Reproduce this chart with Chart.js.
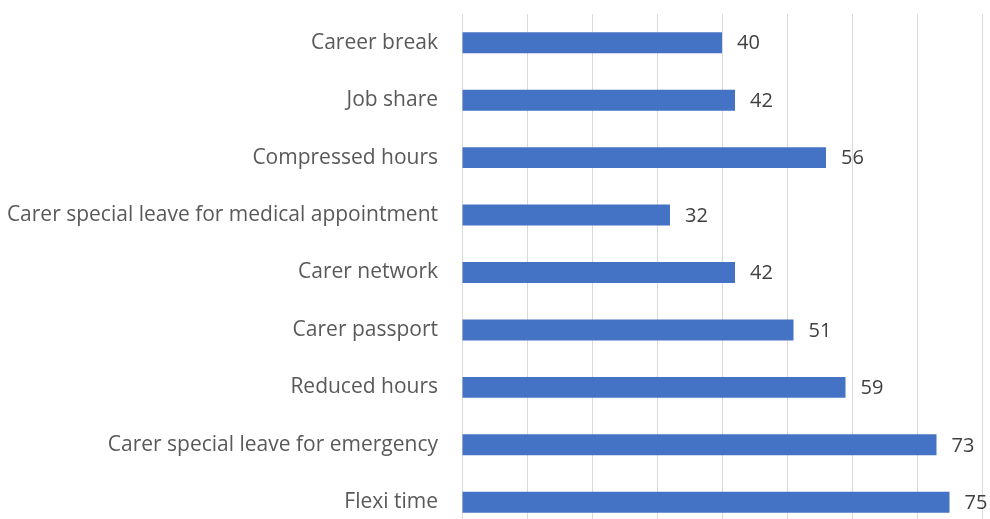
<!DOCTYPE html>
<html>
<head>
<meta charset="utf-8">
<script src="https://cdn.jsdelivr.net/npm/chart.js@4"></script>
<style>
  html, body { margin: 0; padding: 0; background: #fff; overflow: hidden; }
  #wrap { width: 990px; height: 531px; }
</style>
</head>
<body>
<div id="wrap"><canvas id="barChart" width="990" height="531"></canvas></div>
<script>
const categories = [
  "Career break",
  "Job share",
  "Compressed hours",
  "Carer special leave for medical appointment",
  "Carer network",
  "Carer passport",
  "Reduced hours",
  "Carer special leave for emergency",
  "Flexi time",
];

const values = [40, 42, 56, 32, 42, 51, 59, 73, 75];

const axisMin = 0;
const axisMax = 80;
const axisStep = 10;

const fontFamily = "'Open Sans'";

// writes the number just past the end of each bar
const valueLabels = {
  id: "valueLabels",
  afterDatasetsDraw(chart) {
    const ctx = chart.ctx;
    ctx.save();
    ctx.font = "20px " + fontFamily;
    ctx.fillStyle = "#404040";
    ctx.textAlign = "left";
    ctx.textBaseline = "middle";
    chart.getDatasetMeta(0).data.forEach((bar, i) => {
      ctx.fillText(String(values[i]), bar.x + 15, bar.y + 1);
    });
    ctx.restore();
  },
};

const config = {
  type: "bar",
  data: {
    labels: categories,
    datasets: [
      {
        data: values,
        backgroundColor: "#4472C4",
        borderWidth: 0,
        barPercentage: 0.73,
        categoryPercentage: 0.5,
      },
    ],
  },
  options: {
    indexAxis: "y",
    responsive: false,
    animation: false,
    layout: {
      padding: { top: 14, right: 8, bottom: 0, left: 0 },
    },
    scales: {
      x: {
        min: axisMin,
        max: axisMax,
        ticks: { stepSize: axisStep, display: false },
        grid: { color: "#d9d9d9", lineWidth: 1, drawTicks: false },
        border: { display: false },
        afterFit: (scale) => { scale.height = 0; },
      },
      y: {
        // invisible tick marks push the labels away from the axis
        grid: {
          display: true,
          drawOnChartArea: false,
          drawTicks: true,
          tickLength: 24,
          tickColor: "rgba(0,0,0,0)",
        },
        border: { display: false },
        ticks: {
          color: "#595959",
          font: { family: fontFamily, size: 21 },
          padding: 0,
        },
        afterFit: (scale) => {
          scale.width = 462;
          scale.paddingTop = 0;
          scale.paddingBottom = 0;
        },
      },
    },
    plugins: {
      legend: { display: false },
      tooltip: { enabled: false },
    },
  },
  plugins: [valueLabels],
};

new Chart(document.getElementById("barChart"), config);
</script>
</body>
</html>
